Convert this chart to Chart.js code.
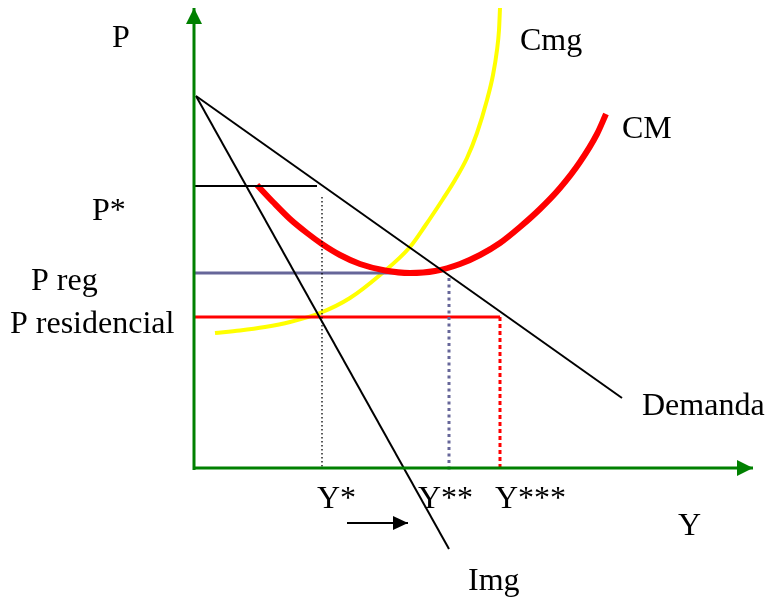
<!DOCTYPE html>
<html>
<head>
<meta charset="utf-8">
<script src="https://cdn.jsdelivr.net/npm/chart.js@4"></script>
<style>
  body { margin: 0; background: #fff; }
  #wrap { width: 766px; height: 598px; }
</style>
</head>
<body>
<div id="wrap"><canvas id="grafico"></canvas></div>
<script>
// Quantidade (Y) e preço (P) medidos a partir da origem dos eixos

// Demanda e receita marginal (Img)
const demandaY = [2, 428];
const demandaP = [372, 70];
const imgY = [2, 255];
const imgP = [372, -81];

// Custo médio (CM)
const cmY = [63, 79, 96, 113, 128, 146, 166, 191, 216, 241, 266, 286, 306, 326, 346, 366, 386, 403, 412];
const cmP = [283, 266, 249, 235, 224, 213, 204, 197.5, 195, 197, 204, 213, 225, 241, 259, 280, 306, 334, 354];

// Custo marginal (Cmg)
const cmgY = [21, 46, 71, 96, 126, 156, 186, 216, 231, 249, 261, 273, 283, 293, 299, 303, 305, 306];
const cmgP = [135, 137.5, 141, 146, 155, 170, 193, 221, 242, 269, 288, 310, 335, 368, 393, 418, 438, 460];

// Preços e quantidades de referência
const precoEstrela = 282, yEstrela = 128;
const precoReg = 195, yDuasEstrelas = 255;
const precoResidencial = 151, yTresEstrelas = 306;

// Eixos
const eixoPTopo = 460;
const eixoYFim = 559;

function pts(xs, ys) {
  return xs.map((x, i) => ({ x: x, y: ys[i] }));
}

// Textos do gráfico (posição em unidades do gráfico, canto esquerdo / linha de base)
const rotulos = [
  { t: 'P', x: -82, y: 421 },
  { t: 'P*', x: -102, y: 248 },
  { t: 'P reg', x: -163, y: 178 },
  { t: 'P residencial', x: -184, y: 135 },
  { t: 'Cmg', x: 326, y: 418 },
  { t: 'CM', x: 428, y: 330 },
  { t: 'Demanda', x: 448, y: 53 },
  { t: 'Y*', x: 123, y: -40 },
  { t: 'Y**', x: 224, y: -40 },
  { t: 'Y***', x: 301, y: -40 },
  { t: 'Y', x: 484, y: -67 },
  { t: 'Img', x: 274, y: -122 }
];

// desenha as pontas de seta e os textos
const extras = {
  id: 'extras',
  afterDatasetsDraw(chart) {
    const ctx = chart.ctx;
    chart.data.datasets.forEach((ds, i) => {
      if (!ds.seta) return;
      const pontos = chart.getDatasetMeta(i).data;
      const a = pontos[pontos.length - 2], b = pontos[pontos.length - 1];
      const ang = Math.atan2(b.y - a.y, b.x - a.x);
      const len = ds.seta[0], half = ds.seta[1];
      ctx.save();
      ctx.fillStyle = ds.borderColor;
      ctx.beginPath();
      ctx.moveTo(b.x, b.y);
      ctx.lineTo(b.x - len * Math.cos(ang) + half * Math.sin(ang), b.y - len * Math.sin(ang) - half * Math.cos(ang));
      ctx.lineTo(b.x - len * Math.cos(ang) - half * Math.sin(ang), b.y - len * Math.sin(ang) + half * Math.cos(ang));
      ctx.closePath();
      ctx.fill();
      ctx.restore();
    });
    const sx = chart.scales.x, sy = chart.scales.y;
    ctx.save();
    ctx.fillStyle = '#000';
    ctx.font = '32px "Liberation Serif", "Times New Roman", serif';
    ctx.textBaseline = 'alphabetic';
    ctx.textAlign = 'left';
    rotulos.forEach(r => ctx.fillText(r.t, sx.getPixelForValue(r.x), sy.getPixelForValue(r.y)));
    ctx.restore();
  }
};

function linha(data, cor, largura, extra) {
  return Object.assign({
    data: data,
    showLine: true,
    borderColor: cor,
    backgroundColor: cor,
    borderWidth: largura,
    pointRadius: 0,
    fill: false,
    tension: 0
  }, extra || {});
}

const suave = { cubicInterpolationMode: 'monotone', borderCapStyle: 'butt' };

new Chart(document.getElementById('grafico'), {
  type: 'scatter',
  data: {
    datasets: [
      // primeiro = por cima
      linha(pts([0, 0], [-2, eixoPTopo]), '#008000', 3, { seta: [16, 8] }),
      linha(pts([-1, eixoYFim], [0, 0]), '#008000', 3, { seta: [16, 8] }),
      linha(pts([153, 214], [-55, -55]), '#000000', 2, { seta: [15, 7] }),
      linha(pts(demandaY, demandaP), '#000000', 2),
      linha(pts(imgY, imgP), '#000000', 2),
      linha(pts([0, 123], [precoEstrela, precoEstrela]), '#000000', 2),
      linha(pts([yEstrela, yEstrela], [271, 0]), '#000000', 1.3, { borderDash: [1.5, 2.5] }),
      linha(pts([yDuasEstrelas, yDuasEstrelas], [190, -5]), '#666699', 3, { borderDash: [3, 3.5] }),
      linha(pts([yTresEstrelas, yTresEstrelas], [precoResidencial, 0]), '#ff0000', 3, { borderDash: [4, 3] }),
      linha(pts(cmY, cmP), '#ff0000', 6, suave),
      linha(pts([0, yTresEstrelas], [precoResidencial, precoResidencial]), '#ff0000', 3),
      linha(pts([0, 204], [precoReg, precoReg]), '#666699', 3),
      linha(pts(cmgY, cmgP), '#ffff00', 4, suave)
    ]
  },
  options: {
    responsive: true,
    maintainAspectRatio: false,
    animation: false,
    layout: { padding: 0 },
    plugins: { legend: { display: false }, tooltip: { enabled: false } },
    scales: {
      x: { type: 'linear', min: -194, max: 572, display: false },
      y: { type: 'linear', min: -130, max: 468, display: false }
    }
  },
  plugins: [extras]
});
</script>
</body>
</html>
